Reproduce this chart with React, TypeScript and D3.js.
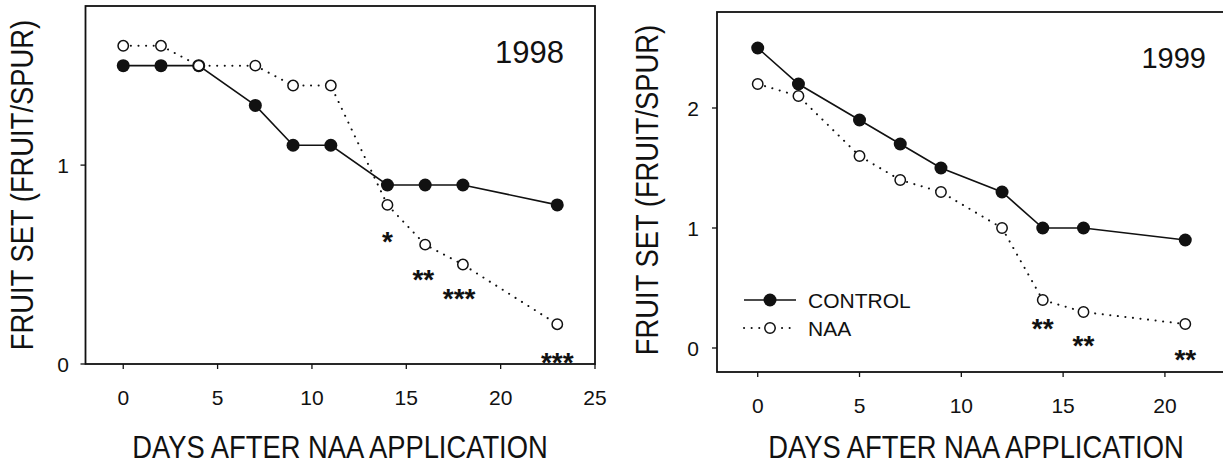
import React from 'react';
import * as d3 from 'd3';

// 1998 season
const days98 = [0, 2, 4, 7, 9, 11, 14, 16, 18, 23];
const control98 = [1.5, 1.5, 1.5, 1.3, 1.1, 1.1, 0.9, 0.9, 0.9, 0.8];
const naa98 = [1.6, 1.6, 1.5, 1.5, 1.4, 1.4, 0.8, 0.6, 0.5, 0.2];
const starDays98 = [14, 15.9, 17.8, 23];
const starPos98 = [0.65, 0.46, 0.36, 0.04];
const starText98 = ['*', '**', '***', '***'];
const xTicks98 = [0, 5, 10, 15, 20, 25];
const yTicks98 = [0, 1];

// 1999 season
const days99 = [0, 2, 5, 7, 9, 12, 14, 16, 21];
const control99 = [2.5, 2.2, 1.9, 1.7, 1.5, 1.3, 1.0, 1.0, 0.9];
const naa99 = [2.2, 2.1, 1.6, 1.4, 1.3, 1.0, 0.4, 0.3, 0.2];
const starDays99 = [14, 16, 21];
const starPos99 = [0.22, 0.075, -0.04];
const starText99 = ['**', '**', '**'];
const xTicks99 = [0, 5, 10, 15, 20];
const yTicks99 = [0, 1, 2];

const FONT = '"Liberation Sans", Arial, Helvetica, sans-serif';
const INK = '#111';
// titles in the scan are set in a narrow face; squeeze the regular one
const SQUEEZE = 0.855;

function Panel({ days, control, naa, starDays, starPos, starText, xTicks, yTicks,
  xDomain, yDomain, xRange, yRange, year, yearX, yearY, yearSize,
  xLabelY, yLabelX, xTitleX, yTitleX, yTitleY, legend }) {
  const x = d3.scaleLinear().domain(xDomain).range(xRange);
  const y = d3.scaleLinear().domain(yDomain).range(yRange);

  const line = d3.line().x(d => x(d[0])).y(d => y(d[1]));
  const ctrlPts = days.map((d, i) => [d, control[i]]);
  const naaPts = days.map((d, i) => [d, naa[i]]);

  const [x0, x1] = xRange;
  const [yb, yt] = yRange;

  return (
    <g>
      {/* frame */}
      <rect x={x0} y={yt} width={x1 - x0} height={yb - yt} fill="none" stroke={INK} strokeWidth={1.8} />

      {/* x ticks */}
      {xTicks.map(t => (
        <g key={'x' + t}>
          <line x1={x(t)} x2={x(t)} y1={yb} y2={yb + 5} stroke={INK} strokeWidth={1.3} />
          <text x={x(t)} y={xLabelY} textAnchor="middle" fontSize={21} fontFamily={FONT} fill={INK}>{t}</text>
        </g>
      ))}

      {/* y ticks */}
      {yTicks.map(t => (
        <g key={'y' + t}>
          <line x1={x0 - 5} x2={x0} y1={y(t)} y2={y(t)} stroke={INK} strokeWidth={1.3} />
          <text x={yLabelX} y={y(t) + 7.5} textAnchor="end" fontSize={21} fontFamily={FONT} fill={INK}>{t}</text>
        </g>
      ))}

      {/* series lines */}
      <path d={line(naaPts)} fill="none" stroke={INK} strokeWidth={2} strokeDasharray="0.1 7.5" strokeLinecap="round" />
      <path d={line(ctrlPts)} fill="none" stroke={INK} strokeWidth={1.6} />

      {/* markers */}
      {ctrlPts.map((p, i) => (
        <circle key={'c' + i} cx={x(p[0])} cy={y(p[1])} r={6.5} fill={INK} />
      ))}
      {naaPts.map((p, i) => (
        <circle key={'n' + i} cx={x(p[0])} cy={y(p[1])} r={5.2} fill="#fff" stroke={INK} strokeWidth={1.5} />
      ))}

      {/* significance marks */}
      {starDays.map((d, i) => (
        <text key={'s' + i} x={x(d)} y={y(starPos[i]) + 16} textAnchor="middle" fontSize={28}
          fontWeight="bold" fontFamily={FONT} fill={INK}>{starText[i]}</text>
      ))}

      {/* year */}
      <text x={yearX} y={yearY} textAnchor="end" fontSize={yearSize} fontFamily={FONT} fill={INK}>{year}</text>

      {/* axis titles */}
      <g transform={`translate(${xTitleX},458) scale(${SQUEEZE},1)`}>
        <text x={0} y={0} textAnchor="middle" fontSize={32} fontFamily={FONT} fill={INK}>DAYS AFTER NAA APPLICATION</text>
      </g>
      <g transform={`translate(${yTitleX},${yTitleY}) rotate(-90) scale(${SQUEEZE},1)`}>
        <text x={0} y={11} textAnchor="middle" fontSize={32} fontFamily={FONT} fill={INK}>FRUIT SET (FRUIT/SPUR)</text>
      </g>

      {legend && (
        <g fontFamily={FONT} fontSize={21} fill={INK}>
          <line x1={744} x2={796} y1={300} y2={300} stroke={INK} strokeWidth={1.6} />
          <circle cx={770} cy={300} r={6.5} fill={INK} />
          <text x={808} y={308}>CONTROL</text>
          <line x1={744} x2={796} y1={328} y2={328} stroke={INK} strokeWidth={2} strokeDasharray="0.1 7.5" strokeLinecap="round" />
          <circle cx={770} cy={328} r={5.2} fill="#fff" stroke={INK} strokeWidth={1.5} />
          <text x={808} y={336}>NAA</text>
        </g>
      )}
    </g>
  );
}

export default function App() {
  return (
    <svg width={1223} height={465} style={{ position: 'absolute', left: 0, top: 0, background: '#fff' }}>
      <rect width={1223} height={465} fill="#fff" />
      <Panel days={days98} control={control98} naa={naa98}
        starDays={starDays98} starPos={starPos98} starText={starText98}
        xTicks={xTicks98} yTicks={yTicks98}
        xDomain={[-2, 25]} yDomain={[0, 1.8]} xRange={[85.5, 595]} yRange={[364, 6]}
        year="1998" yearX={564} yearY={63} yearSize={31}
        xLabelY={404.5} yLabelX={69} xTitleX={340} yTitleX={22} yTitleY={185} legend={false} />
      <Panel days={days99} control={control99} naa={naa99}
        starDays={starDays99} starPos={starPos99} starText={starText99}
        xTicks={xTicks99} yTicks={yTicks99}
        xDomain={[-2, 23]} yDomain={[-0.2, 2.8]} xRange={[717, 1226]} yRange={[372, 12]}
        year="1999" yearX={1206} yearY={68} yearSize={29}
        xLabelY={412.5} yLabelX={699} xTitleX={976} yTitleX={647} yTitleY={190} legend={true} />
    </svg>
  );
}
